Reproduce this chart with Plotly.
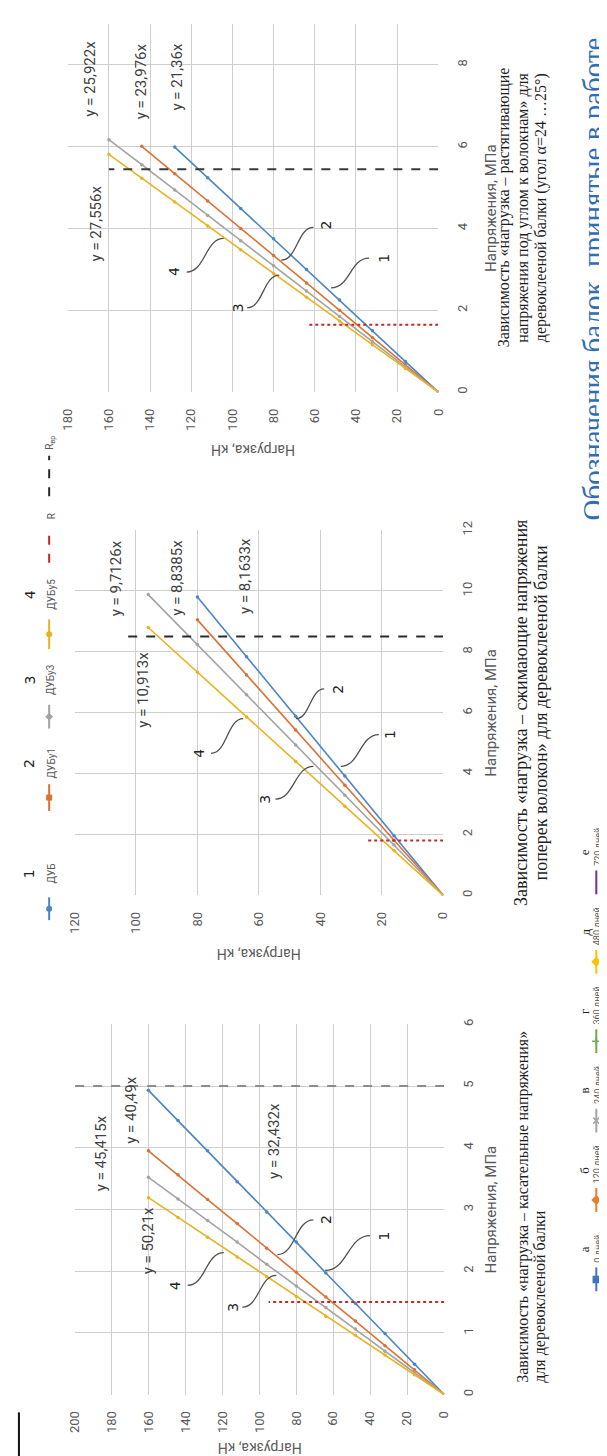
import plotly.graph_objects as go

W, H = 607, 1456

# ---------------- data ----------------
series_names = ["ДУБ", "ДУБу1", "ДУБу3", "ДУБу5"]
series_colors = ["#4A86C6", "#DB7136", "#A3A3A3", "#E8B321"]

# top panel: tensile stresses at angle to fibres
top_load_1 = [0, 16, 32, 48, 64, 80, 96, 112, 128]
top_stress_1 = [0, 0.75, 1.50, 2.25, 3.00, 3.75, 4.49, 5.24, 5.99]
top_load_2 = [0, 16, 32, 48, 64, 80, 96, 112, 128, 144]
top_stress_2 = [0, 0.67, 1.33, 2.00, 2.67, 3.34, 4.00, 4.67, 5.34, 6.01]
top_load_3 = [0, 16, 32, 48, 64, 80, 96, 112, 128, 144, 160]
top_stress_3 = [0, 0.62, 1.23, 1.85, 2.47, 3.09, 3.70, 4.32, 4.94, 5.56, 6.17]
top_load_4 = [0, 16, 32, 48, 64, 80, 96, 112, 128, 144, 160]
top_stress_4 = [0, 0.58, 1.16, 1.74, 2.32, 2.90, 3.48, 4.06, 4.65, 5.23, 5.81]
top_R_load = [0, 64]
top_R_stress = [1.65, 1.65]
top_Rvr_load = [0, 160]
top_Rvr_stress = [5.45, 5.45]
top_equations = ["y = 21,36x", "y = 23,976x", "y = 25,922x", "y = 27,556x"]

# middle panel: compressive stresses across fibres
mid_load_1 = [0, 16, 32, 48, 64, 80]
mid_stress_1 = [0, 1.96, 3.92, 5.88, 7.84, 9.80]
mid_load_2 = [0, 16, 32, 48, 64, 80]
mid_stress_2 = [0, 1.81, 3.62, 5.43, 7.24, 9.05]
mid_load_3 = [0, 16, 32, 48, 64, 80, 96]
mid_stress_3 = [0, 1.65, 3.29, 4.94, 6.59, 8.24, 9.88]
mid_load_4 = [0, 16, 32, 48, 64, 80, 96]
mid_stress_4 = [0, 1.47, 2.93, 4.40, 5.86, 7.33, 8.80]
mid_R_load = [0, 25]
mid_R_stress = [1.8, 1.8]
mid_Rvr_load = [0, 103]
mid_Rvr_stress = [8.5, 8.5]
mid_equations = ["y = 8,1633x", "y = 8,8385x", "y = 9,7126x", "y = 10,913x"]

# bottom panel: tangential stresses
bot_load_1 = [0, 16, 32, 48, 64, 80, 96, 112, 128, 144, 160]
bot_stress_1 = [0, 0.49, 0.99, 1.48, 1.97, 2.47, 2.96, 3.45, 3.95, 4.44, 4.93]
bot_load_2 = [0, 16, 32, 48, 64, 80, 96, 112, 128, 144, 160]
bot_stress_2 = [0, 0.40, 0.79, 1.19, 1.58, 1.98, 2.37, 2.77, 3.16, 3.56, 3.95]
bot_load_3 = [0, 16, 32, 48, 64, 80, 96, 112, 128, 144, 160]
bot_stress_3 = [0, 0.35, 0.70, 1.06, 1.41, 1.76, 2.11, 2.47, 2.82, 3.17, 3.52]
bot_load_4 = [0, 16, 32, 48, 64, 80, 96, 112, 128, 144, 160]
bot_stress_4 = [0, 0.32, 0.64, 0.96, 1.27, 1.59, 1.91, 2.23, 2.55, 2.87, 3.19]
bot_R_load = [0, 95]
bot_R_stress = [1.5, 1.5]
bot_Rvr_load = [0, 200]
bot_Rvr_stress = [5.0, 5.0]
bot_equations = ["y = 32,432x", "y = 40,49x", "y = 45,415x", "y = 50,21x"]

age_letters = ["а", "б", "в", "г", "д", "е"]
age_labels = ["0 дней", "120 дней", "240 дней", "360 дней", "480 дней", "720 дней"]
age_colors = ["#4472C4", "#ED7D31", "#A5A5A5", "#70AD47", "#FFC000", "#7030A0"]
age_symbols = ["square", "diamond", "x-thin-open", "cross-thin-open", "diamond", None]

captions_top = ["Зависимость «нагрузка – растягивающие",
                "напряжения под углом к волокнам» для",
                "деревоклееной балки (угол α=24 …25°)"]
captions_mid = ["Зависимость «нагрузка – сжимающие напряжения",
                "поперек волокон» для деревоклееной балки"]
captions_bot = ["Зависимость «нагрузка – касательные напряжения»",
                "для деревоклееной балки"]
title_text = "Обозначения балок, принятые в работе"

# ---------------- layout geometry (pixels) ----------------
panels = [
    dict(ax="", loads=[top_load_1, top_load_2, top_load_3, top_load_4],
         stresses=[top_stress_1, top_stress_2, top_stress_3, top_stress_4],
         R=(top_R_load, top_R_stress), Rvr=(top_Rvr_load, top_Rvr_stress), rvr_color="#3A3A3A",
         px=(53, 433), py=(7, 378), xmax=180, ymax=9, dy=2, title_y=437,
         eqs=top_equations, eq_pos=[(165, 60), (128, 65), (75, 62), (82, 208)],
         leaders=[((377, 243), (362, 243), (323, 273)), ((318, 210), (305, 212), (272, 245)),
                  ((227, 293), (237, 293), (270, 260)), ((162, 257), (175, 257), (213, 223))]),
    dict(ax="2", loads=[mid_load_1, mid_load_2, mid_load_3, mid_load_4],
         stresses=[mid_stress_1, mid_stress_2, mid_stress_3, mid_stress_4],
         R=(mid_R_load, mid_R_stress), Rvr=(mid_Rvr_load, mid_Rvr_stress), rvr_color="#2A2A2A",
         px=(60, 438), py=(517, 885), xmax=120, ymax=12, dy=2, title_y=944,
         eqs=mid_equations, eq_pos=[(235, 563), (165, 565), (102, 565), (130, 678)],
         leaders=[((383, 723), (372, 723), (333, 755)), ((330, 677), (316, 677), (287, 707)),
                  ((255, 788), (266, 788), (305, 755)), ((188, 742), (200, 742), (233, 707))]),
    dict(ax="3", loads=[bot_load_1, bot_load_2, bot_load_3, bot_load_4],
         stresses=[bot_stress_1, bot_stress_2, bot_stress_3, bot_stress_4],
         R=(bot_R_load, bot_R_stress), Rvr=(bot_Rvr_load, bot_Rvr_stress), rvr_color="#8C8C8C",
         px=(60, 439), py=(1015, 1388), xmax=200, ymax=6, dy=1, title_y=1442,
         eqs=bot_equations, eq_pos=[(265, 1132), (118, 1102), (88, 1145), (135, 1233)],
         leaders=[((377, 1228), (363, 1228), (317, 1263)), ((318, 1212), (305, 1212), (268, 1247)),
                  ((223, 1300), (232, 1300), (267, 1268)), ((163, 1278), (176, 1278), (213, 1245))]),
]

fig = go.Figure()
annotations = []
shapes = []

TICKFONT = dict(family="Roboto", size=13, color="#595959")
GRID = "#CFCFCF"

for p in panels:
    xa, ya = "x" + p["ax"], "y" + p["ax"]
    for i in range(4):
        fig.add_trace(go.Scatter(
            x=p["loads"][i], y=p["stresses"][i], mode="lines+markers",
            line=dict(color=series_colors[i], width=1.6),
            marker=dict(size=3.5, color=series_colors[i]),
            xaxis=xa, yaxis=ya, showlegend=False, hoverinfo="skip"))
    fig.add_trace(go.Scatter(x=p["R"][0], y=p["R"][1], mode="lines",
                             line=dict(color="#C0282A", width=2, dash="dot"),
                             xaxis=xa, yaxis=ya, showlegend=False, hoverinfo="skip"))
    fig.add_trace(go.Scatter(x=p["Rvr"][0], y=p["Rvr"][1], mode="lines",
                             line=dict(color=p["rvr_color"], width=2, dash="dash"),
                             xaxis=xa, yaxis=ya, showlegend=False, hoverinfo="skip"))
    xkey = "xaxis" + p["ax"]
    ykey = "yaxis" + p["ax"]
    fig.update_layout(**{
        xkey: dict(domain=[p["px"][0] / W, p["px"][1] / W], range=[p["xmax"], 0],
                   dtick=20, tick0=0, tickangle=-90, tickfont=TICKFONT,
                   showgrid=True, gridcolor=GRID, gridwidth=1, zeroline=False,
                   showline=False, ticks="", ticklabelstandoff=13, anchor=ya,
                   fixedrange=True),
        ykey: dict(domain=[1 - p["py"][1] / H, 1 - p["py"][0] / H], range=[0, p["ymax"]],
                   dtick=p["dy"], tick0=0, tickangle=-90, tickfont=TICKFONT, side="right",
                   showgrid=True, gridcolor=GRID, gridwidth=1, zeroline=False,
                   showline=False, ticks="", ticklabelstandoff=15, anchor=xa,
                   fixedrange=True),
    })
    # axis titles
    cx = (p["px"][0] + p["px"][1]) / 2
    cy = (p["py"][0] + p["py"][1]) / 2
    annotations.append(dict(x=cx, y=p["title_y"], xref="x4", yref="y4", text="Нагрузка, кН",
                            textangle=180, showarrow=False,
                            font=dict(family="Roboto", size=14, color="#595959")))
    annotations.append(dict(x=487, y=cy, xref="x4", yref="y4", text="Напряжения, МПа",
                            textangle=-90, showarrow=False,
                            font=dict(family="Roboto", size=15, color="#595959")))
    # equations
    for txt, (ex, ey) in zip(p["eqs"], p["eq_pos"]):
        annotations.append(dict(x=ex, y=ey, xref="x4", yref="y4", text=txt, textangle=-90,
                                showarrow=False,
                                font=dict(family="Roboto", size=15, color="#404040")))
    # leader curves with numbers
    for k, ((nx, ny), (sx, sy), (tx, ty)) in enumerate(p["leaders"]):
        mx = (sx + tx) / 2
        shapes.append(dict(type="path", xref="x4", yref="y4",
                           path=f"M {sx},{sy} C {mx},{sy} {mx},{ty} {tx},{ty}",
                           line=dict(color="#505050", width=1.3)))
        annotations.append(dict(x=nx, y=ny, xref="x4", yref="y4", text=str(k + 1),
                                textangle=-90, showarrow=False,
                                font=dict(family="DejaVu Sans", size=14, color="#222222")))

# ---------------- top-left legend (rotated) ----------------
leg_items = [  # (line y0, y1, text center y, number)
    (910, 887, 863, "1"), (800, 773, 752, "2"), (717, 693, 668, "3"), (637, 607, 582, "4")]
leg_symbols = ["circle", "square", "diamond", "circle"]
for i, (y0, y1, ty, num) in enumerate(leg_items):
    shapes.append(dict(type="line", xref="x4", yref="y4", x0=34, x1=34, y0=y0, y1=y1,
                       line=dict(color=series_colors[i], width=2)))
    fig.add_trace(go.Scatter(x=[34], y=[(y0 + y1) / 2], mode="markers",
                             marker=dict(size=6, color=series_colors[i], symbol=leg_symbols[i]),
                             xaxis="x4", yaxis="y4", showlegend=False, hoverinfo="skip"))
    annotations.append(dict(x=36, y=ty, xref="x4", yref="y4", text=series_names[i],
                            textangle=-90, showarrow=False,
                            font=dict(family="Roboto", size=10, color="#595959")))
    annotations.append(dict(x=14, y=ty, xref="x4", yref="y4", text=num, textangle=-90,
                            showarrow=False,
                            font=dict(family="DejaVu Sans", size=14, color="#222222")))
shapes.append(dict(type="line", xref="x4", yref="y4", x0=34, x1=34, y0=550, y1=517,
                   line=dict(color="#C0282A", width=2, dash="dash")))
annotations.append(dict(x=36, y=503, xref="x4", yref="y4", text="R", textangle=-90,
                        showarrow=False, font=dict(family="Roboto", size=10, color="#595959")))
shapes.append(dict(type="line", xref="x4", yref="y4", x0=34, x1=34, y0=483, y1=442,
                   line=dict(color="#2A2A2A", width=2, dash="dash")))
annotations.append(dict(x=36, y=429, xref="x4", yref="y4", text="R<sub>вр</sub>",
                        textangle=-90, showarrow=False,
                        font=dict(family="Roboto", size=10, color="#595959")))

# ---------------- right-bottom legend (ages) ----------------
for i in range(6):
    base = 1284 - i * 80
    shapes.append(dict(type="line", xref="x4", yref="y4", x0=595, x1=595, y0=base,
                       y1=base - 24, line=dict(color=age_colors[i], width=2)))
    if age_symbols[i]:
        fig.add_trace(go.Scatter(x=[595], y=[base - 12], mode="markers",
                                 marker=dict(size=6, color=age_colors[i], symbol=age_symbols[i],
                                             line=dict(color=age_colors[i], width=1.5)),
                                 xaxis="x4", yaxis="y4", showlegend=False, hoverinfo="skip"))
    annotations.append(dict(x=596, y=base - 27, xref="x4", yref="y4", text=age_labels[i],
                            textangle=-90, showarrow=False, yanchor="bottom",
                            font=dict(family="Roboto", size=9, color="#595959")))
    annotations.append(dict(x=583, y=base - 42, xref="x4", yref="y4", text=age_letters[i],
                            textangle=-90, showarrow=False,
                            font=dict(family="Liberation Serif", size=13, color="#222222")))

# ---------------- captions ----------------
CAP = dict(family="Liberation Serif", size=16, color="#1E1E1E")
CAP_MID = dict(family="Liberation Serif", size=18, color="#1E1E1E")
for txt, cx in zip(captions_top, [500, 519, 538]):
    annotations.append(dict(x=cx, y=192, xref="x4", yref="y4", text=txt, textangle=-90,
                            showarrow=False, font=CAP))
for txt, cx in zip(captions_mid, [517, 538]):
    annotations.append(dict(x=cx, y=701, xref="x4", yref="y4", text=txt, textangle=-90,
                            showarrow=False, font=CAP_MID))
for txt, cx in zip(captions_bot, [519, 537]):
    annotations.append(dict(x=cx, y=1378, xref="x4", yref="y4", text=txt, textangle=-90,
                            showarrow=False, yanchor="bottom", font=CAP))
annotations.append(dict(x=592, y=264, xref="x4", yref="y4", text=title_text, textangle=-90,
                        showarrow=False,
                        font=dict(family="Liberation Serif", size=29, color="#2F6DB5")))

shapes.append(dict(type="line", xref="x4", yref="y4", x0=3, x1=3, y0=1406, y1=1456,
                   line=dict(color="#111111", width=2)))

fig.update_layout(
    width=W, height=H, margin=dict(l=0, r=0, t=0, b=0),
    paper_bgcolor="white", plot_bgcolor="rgba(0,0,0,0)",
    xaxis4=dict(domain=[0, 1], range=[0, W], visible=False, anchor="y4", fixedrange=True),
    yaxis4=dict(domain=[0, 1], range=[H, 0], visible=False, anchor="x4", fixedrange=True),
    annotations=annotations, shapes=shapes, showlegend=False,
)

fig.write_html("out.html")
